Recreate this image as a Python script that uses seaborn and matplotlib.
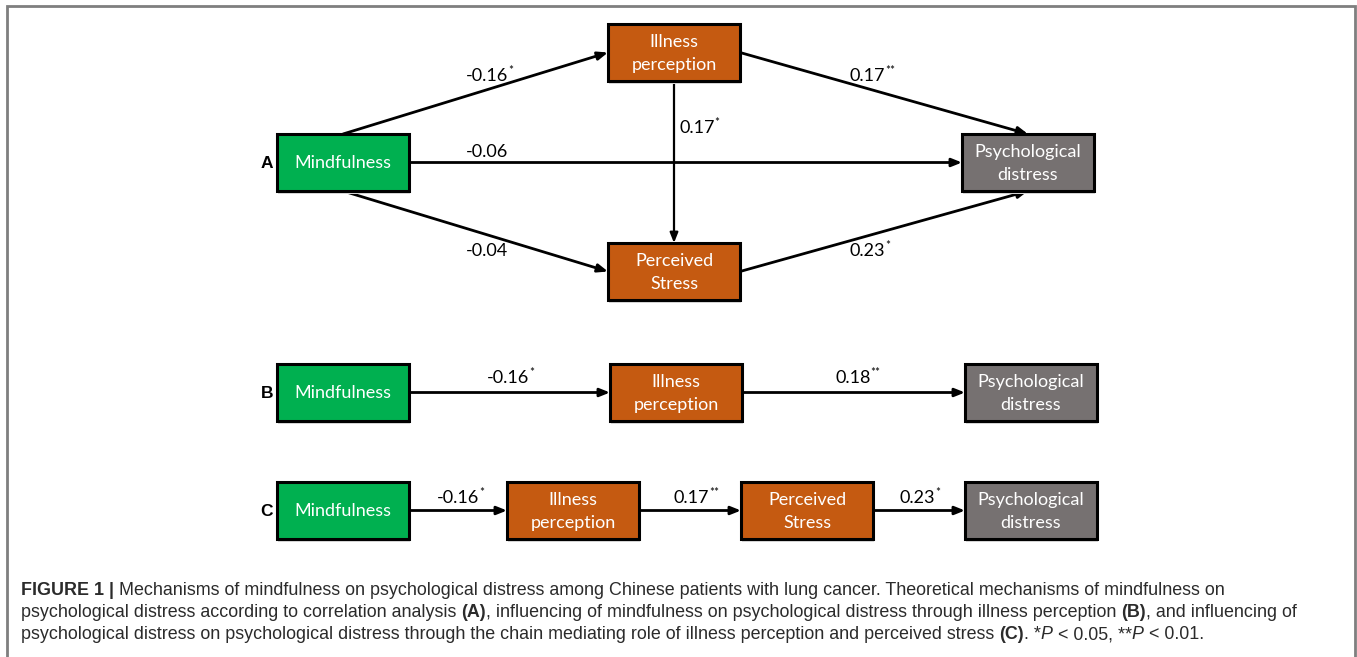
import matplotlib
matplotlib.use("Agg")
import matplotlib.pyplot as plt
import matplotlib.patches as mpatches
import seaborn as sns

# node labels
nodes_a = ["Mindfulness", "Illness\nperception", "Perceived\nStress", "Psychological\ndistress"]
nodes_b = ["Mindfulness", "Illness\nperception", "Psychological\ndistress"]
nodes_c = ["Mindfulness", "Illness\nperception", "Perceived\nStress", "Psychological\ndistress"]
node_kind = {"Mindfulness": "pred", "Illness\nperception": "med", "Perceived\nStress": "med",
             "Psychological\ndistress": "out"}

# path coefficients and significance marks
coef_a = ["-0.16", "0.17", "0.17", "-0.06", "-0.04", "0.23"]
star_a = ["*", "**", "*", "", "", "*"]
coef_b = ["-0.16", "0.18"]
star_b = ["*", "**"]
coef_c = ["-0.16", "0.17", "0.23"]
star_c = ["*", "**", "*"]

caption = [
    [("FIGURE 1 | ", "bold", "normal"),
     ("Mechanisms of mindfulness on psychological distress among Chinese patients with lung cancer. "
      "Theoretical mechanisms of mindfulness on", "normal", "normal")],
    [("psychological distress according to correlation analysis ", "normal", "normal"), ("(A)", "bold", "normal"),
     (", influencing of mindfulness on psychological distress through illness perception ", "normal", "normal"),
     ("(B)", "bold", "normal"), (", and influencing of", "normal", "normal")],
    [("psychological distress on psychological distress through the chain mediating role of illness perception "
      "and perceived stress ", "normal", "normal"), ("(C)", "bold", "normal"), (". *", "normal", "normal"),
     ("P", "normal", "italic"), (" < 0.05, **", "normal", "normal"), ("P", "normal", "italic"),
     (" < 0.01.", "normal", "normal")],
]

# layout (pixel space)
W, H = 1357, 657
box_w, box_h = 132, 57
pos_a = [(277, 134), (608, 24), (608, 243), (962, 134)]
pos_b = [(277, 364), (610, 364), (965, 364)]
pos_c = [(277, 482), (507, 482), (741, 482), (965, 482)]
lab_a = [(466, 81), (850, 81), (679, 133), (466, 157), (466, 256), (850, 256)]
lab_b = [(487, 383), (835, 383)]
lab_c = [(437, 503), (674, 503), (900, 503)]

colors = {"pred": "#00b050", "med": "#c55a11", "out": "#767171"}

sns.set_theme(style="white")
plt.rcParams["font.family"] = ["Lato", "DejaVu Sans"]

fig = plt.figure(figsize=(W / 100, H / 100), dpi=100)
ax = fig.add_axes([0, 0, 1, 1])
ax.set_xlim(0, W)
ax.set_ylim(H, 0)
ax.axis("off")

# outer frame
ax.plot([7, 7, 1355, 1355], [H + 5, 6, 6, H + 5], color="#7f7f7f", lw=2, solid_joinstyle="miter")


def box(x, y, name):
    ax.add_patch(mpatches.Rectangle((x + 1, y + 3), box_w, box_h, facecolor="#d9d9d9", edgecolor="none", zorder=2))
    ax.add_patch(mpatches.Rectangle((x, y), box_w, box_h, facecolor=colors[node_kind[name]],
                                    edgecolor="black", lw=2.2, zorder=3))
    ax.text(x + box_w / 2, y + box_h / 2 + 1, name, color="white", ha="center", va="center",
            fontsize=13, linespacing=1.55, zorder=4)


def arrow(p0, p1, lw=2):
    ax.annotate("", xy=p1, xytext=p0,
                arrowprops=dict(arrowstyle="-|>,head_length=0.5,head_width=0.2", color="black", lw=lw,
                                shrinkA=0, shrinkB=0), zorder=1)


def coef(x, y, value, stars):
    t = ax.text(x, y, value, fontsize=13, ha="left", va="baseline", color="black")
    fig.canvas.draw()
    w = t.get_window_extent().width
    if stars:
        ax.text(x + w, y - 7, stars, fontsize=8.5, ha="left", va="baseline", color="black")


for (x, y), n in zip(pos_a + pos_b + pos_c, nodes_a + nodes_b + nodes_c):
    box(x, y, n)

# panel A arrows
m, ip, ps, pd_ = pos_a
cx = lambda p: p[0] + box_w / 2
cy = lambda p: p[1] + box_h / 2
arrow((cx(m), m[1]), (ip[0], cy(ip)))
arrow((m[0] + box_w, cy(m)), (pd_[0], cy(pd_)))
arrow((cx(m), m[1] + box_h), (ps[0], cy(ps)))
arrow((ip[0] + box_w, cy(ip)), (cx(pd_), pd_[1]))
arrow((ps[0] + box_w, cy(ps)), (cx(pd_), pd_[1] + box_h))
arrow((cx(ip), ip[1] + box_h), (cx(ps), ps[1]), lw=1.6)

for row in (pos_b, pos_c):
    for a, b in zip(row[:-1], row[1:]):
        arrow((a[0] + box_w, cy(a)), (b[0], cy(b)))

for (x, y), v, s in zip(lab_a + lab_b + lab_c, coef_a + coef_b + coef_c, star_a + star_b + star_c):
    coef(x, y, v, s)

for lbl, p in zip("ABC", (pos_a[0], pos_b[0], pos_c[0])):
    ax.text(p[0] - 4, cy(p) + 1, lbl, ha="right", va="center", fontsize=12.5, fontweight="bold",
            family=["Liberation Sans", "DejaVu Sans"], color="black")

# caption
fig.canvas.draw()
baselines = [595, 617, 639]
for runs, yb in zip(caption, baselines):
    x = 21
    for txt, wt, st in runs:
        t = ax.text(x, yb, txt, fontsize=12.9, fontweight=wt, fontstyle=st, ha="left", va="baseline",
                    color="#2b2b2b", family=["Liberation Sans", "DejaVu Sans"])
        fig.canvas.draw()
        x += t.get_window_extent().width

fig.savefig("out.png", dpi=100)
